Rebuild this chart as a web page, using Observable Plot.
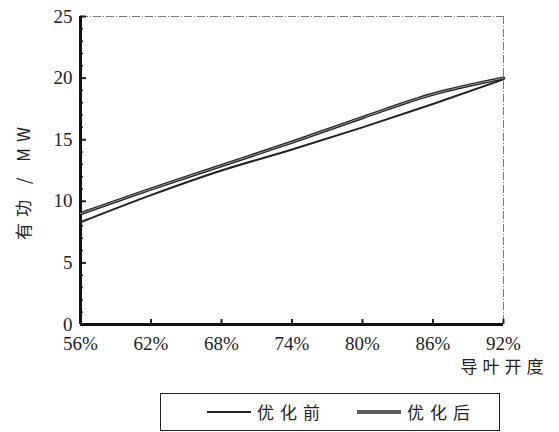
<!DOCTYPE html>
<html><head><meta charset="utf-8">
<script src="https://cdn.jsdelivr.net/npm/d3@7"></script>
<script src="https://cdn.jsdelivr.net/npm/@observablehq/plot@0.6"></script>
<style>
body{margin:0;background:#fff;width:559px;height:432px;position:relative;overflow:hidden;}
#chart svg text{font-family:"Liberation Serif","DejaVu Serif",serif;}
#chart svg .ylab text, #chart svg .xlab text{font-family:"Noto Sans CJK SC",sans-serif;}
#legend{position:absolute;left:160px;top:393px;width:340px;height:38px;border:1.5px solid #222;box-sizing:border-box;
 font-family:"Noto Sans CJK SC",sans-serif;font-size:17px;color:#222;}
#legend .item{position:absolute;top:5px;display:flex;align-items:center;letter-spacing:6px;}
#legend svg{margin-right:6px;}
</style></head>
<body>
<div id="chart"></div>
<div id="legend">
  <div class="item" style="left:46px"><svg width="44" height="8"><line x1="0" x2="44" y1="4" y2="4" stroke="#222" stroke-width="2"/></svg>优化前</div>
  <div class="item" style="left:196px"><svg width="44" height="8"><line x1="0" x2="44" y1="4" y2="4" stroke="#222" stroke-width="3.4"/><line x1="0" x2="44" y1="4" y2="4" stroke="#999" stroke-width="1"/></svg>优化后</div>
</div>
<script>
const opening = [56, 62, 68, 74, 80, 86, 92];
const before = [8.3, 10.5, 12.5, 14.2, 16.0, 17.9, 19.9];
const after = [9.0, 11.0, 12.9, 14.8, 16.8, 18.7, 20.0];
const yTicks = [0, 5, 10, 15, 20, 25];
const yMinor = d3.range(0, 26);
const xLabel = "导叶开度";
const yLabel = "有功 / MW";

const beforeData = opening.map((x, i) => ({x, y: before[i]}));
const afterData = opening.map((x, i) => ({x, y: after[i]}));

const chart = Plot.plot({
  width: 559, height: 390,
  marginLeft: 80, marginRight: 56, marginTop: 16, marginBottom: 66,
  style: {background: "#fff", color: "#222"},
  x: {domain: [56, 92], ticks: opening},
  y: {domain: [0, 25]},
  marks: [
    Plot.ruleY([25], {stroke: "#555", strokeWidth: 0.8, strokeDasharray: "8,2,1,2"}),
    Plot.ruleX([92], {stroke: "#555", strokeWidth: 0.8, strokeDasharray: "8,2,1,2"}),
    Plot.axisY({ticks: yTicks, tickSize: 0, tickPadding: 8, fontSize: 19, label: null}),
    Plot.axisY({ticks: yMinor, tickSize: -3, text: null, label: null, stroke: "#222", strokeWidth: 1.5}),
    Plot.axisY({ticks: yTicks, tickSize: -6, text: null, label: null, stroke: "#222", strokeWidth: 2}),
    Plot.axisX({ticks: opening, tickSize: 0, tickPadding: 12, fontSize: 19, label: null, tickFormat: d => d + "%"}),
    Plot.axisX({ticks: opening, tickSize: -5, text: null, label: null, stroke: "#222", strokeWidth: 2}),
    Plot.ruleX([56], {stroke: "#111", strokeWidth: 3}),
    Plot.ruleY([0], {stroke: "#111", strokeWidth: 3}),
    Plot.line(beforeData, {x: "x", y: "y", stroke: "#222", strokeWidth: 2, curve: "monotone-x"}),
    Plot.line(afterData, {x: "x", y: "y", stroke: "#222", strokeWidth: 3.4, curve: "monotone-x"}),
    Plot.line(afterData, {x: "x", y: "y", stroke: "#999", strokeWidth: 1, curve: "monotone-x"}),
    Plot.text([yLabel], {frameAnchor: "left", dx: -56, dy: 10, rotate: -90, textAnchor: "middle",
      fontSize: 17, fill: "#222", className: "ylab"}),
    Plot.text([xLabel], {frameAnchor: "bottom-right", dx: 45, dy: 48, textAnchor: "end",
      fontSize: 17, fill: "#222", className: "xlab"})
  ]
});
d3.select(chart).selectAll(".ylab text").style("letter-spacing", "6px");
d3.select(chart).selectAll(".xlab text").style("letter-spacing", "5px");
document.getElementById("chart").appendChild(chart);
</script>
</body></html>
